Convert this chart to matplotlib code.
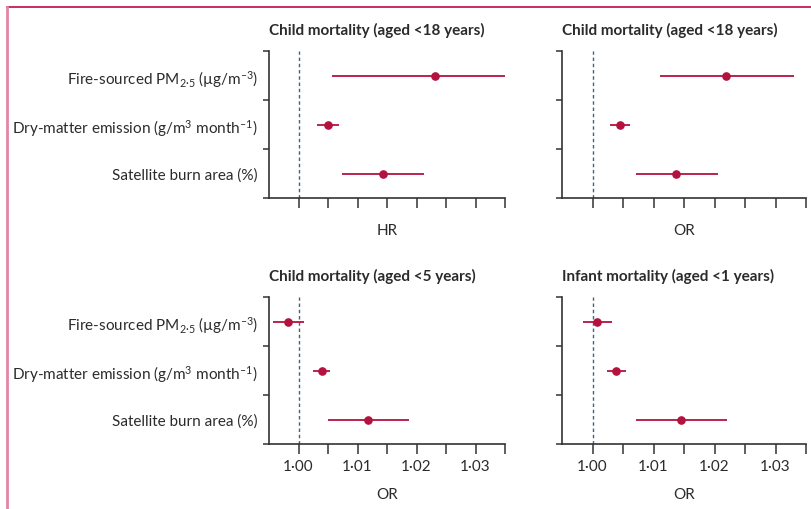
import matplotlib
matplotlib.use("Agg")
import matplotlib.pyplot as plt
from matplotlib.lines import Line2D
from matplotlib.ticker import FuncFormatter

plt.rcParams['font.family'] = ['Lato', 'DejaVu Sans']
plt.rcParams['mathtext.fontset'] = 'custom'
plt.rcParams['mathtext.rm'] = 'Lato'
plt.rcParams['mathtext.it'] = 'Lato'

# ---- data ----
exposures = [
    "Fire-sourced PM$_{\\mathregular{2·5}}$ (µg/m$^{\\mathregular{–3}}$)",
    "Dry-matter emission (g/m$^{\\mathregular{3}}$ month$^{\\mathregular{–1}}$)",
    "Satellite burn area (%)",
]
panel_titles = [
    "Child mortality (aged <18 years)",
    "Child mortality (aged <18 years)",
    "Child mortality (aged <5 years)",
    "Infant mortality (aged <1 years)",
]
panel_xlabels = ["HR", "OR", "OR", "OR"]

# estimates, lower CI, upper CI (order: fire PM2.5, dry matter, burn area)
hr_u18_est = [1.0231, 1.0050, 1.0143]
hr_u18_lo = [1.0057, 1.0032, 1.0074]
hr_u18_hi = [1.0360, 1.0068, 1.0212]

or_u18_est = [1.0219, 1.0045, 1.0137]
or_u18_lo = [1.0110, 1.0029, 1.0071]
or_u18_hi = [1.0331, 1.0061, 1.0205]

or_u5_est = [0.9982, 1.0039, 1.0118]
or_u5_lo = [0.9957, 1.0024, 1.0050]
or_u5_hi = [1.0009, 1.0054, 1.0188]

or_u1_est = [1.0008, 1.0039, 1.0145]
or_u1_lo = [0.9985, 1.0024, 1.0072]
or_u1_hi = [1.0032, 1.0055, 1.0221]

x_ticks = [1.000, 1.005, 1.010, 1.015, 1.020, 1.025, 1.030, 1.035]
x_ticklabels_shown = {1.00: "1·00", 1.01: "1·01", 1.02: "1·02", 1.03: "1·03"}

panels = [
    (hr_u18_est, hr_u18_lo, hr_u18_hi),
    (or_u18_est, or_u18_lo, or_u18_hi),
    (or_u5_est, or_u5_lo, or_u5_hi),
    (or_u1_est, or_u1_lo, or_u1_hi),
]

# ---- styling ----
W, H = 812, 510
fig = plt.figure(figsize=(W / 100, H / 100), dpi=100)
fig.patch.set_facecolor('white')

red = '#b3123f'
txt = '#2b2b2b'
spine_c = '#333333'
dash_c = '#3f6482'

# pixel boxes: (left, top, right, bottom)
boxes = [
    (269, 52, 505, 199),
    (562, 52, 806, 199),
    (269, 298, 505, 445),
    (562, 298, 806, 445),
]

def fmt(v, pos):
    for k, s in x_ticklabels_shown.items():
        if abs(v - k) < 1e-9:
            return s
    return ""

ypos = [2.5, 1.5, 0.5]
FS = 11

for i, ((l, t, r, b), (est, lo, hi)) in enumerate(zip(boxes, panels)):
    ax = fig.add_axes([l / W, (H - b) / H, (r - l) / W, (b - t) / H])
    ax.set_xlim(0.995, 1.035)
    ax.set_ylim(0, 3)
    for s in ['top', 'right']:
        ax.spines[s].set_visible(False)
    for s in ['left', 'bottom']:
        ax.spines[s].set_color(spine_c)
        ax.spines[s].set_linewidth(1.2)

    ax.plot([1.0, 1.0], [0, 3], color=dash_c, lw=1.0, ls=(0, (2.5, 2)), zorder=1)

    for y, e, a, c in zip(ypos, est, lo, hi):
        ax.plot([a, c], [y, y], color=red, lw=1.3, solid_capstyle='butt', zorder=2)
        ax.plot([e], [y], 'o', color=red, ms=5.2, zorder=3)

    ax.set_xticks(x_ticks)
    ax.tick_params(axis='x', direction='out', length=7.5, width=1.1, color=spine_c,
                   labelsize=FS, labelcolor=txt, pad=3)
    if i >= 2:
        ax.xaxis.set_major_formatter(FuncFormatter(fmt))
    else:
        ax.set_xticklabels([])

    ax.set_yticks([0, 1, 2, 3])
    ax.set_yticklabels([])
    ax.tick_params(axis='y', which='major', direction='out', length=4.5, width=1.1, color=spine_c)
    if i in (0, 2):
        ax.set_yticks(ypos, minor=True)
        ax.set_yticklabels(exposures, minor=True)
        ax.tick_params(axis='y', which='minor', length=0, pad=8, labelsize=FS, labelcolor=txt)

    ax.annotate(panel_titles[i], xy=(0, 1), xycoords='axes fraction',
                xytext=(0, 22), textcoords='offset pixels', ha='left', va='center',
                fontsize=FS, fontweight='bold', color=txt)
    ax.annotate(panel_xlabels[i], xy=(0.5, 0), xycoords='axes fraction',
                xytext=(0, -32 if i < 2 else -50), textcoords='offset pixels',
                ha='center', va='center', fontsize=FS, color=txt)

# frame lines
fig.add_artist(Line2D([7 / W, 1.0], [(H - 8) / H] * 2, color='#c81a52', lw=1.3))
fig.add_artist(Line2D([7 / W] * 2, [0, (H - 8) / H], color='#e185a3', lw=2.0))

fig.savefig('out.png', dpi=100)
